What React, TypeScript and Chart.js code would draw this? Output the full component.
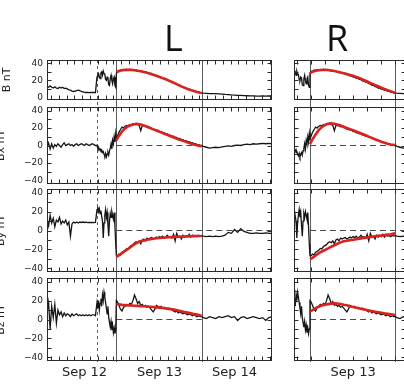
import React, { useEffect, useRef } from "react";
import { Chart, registerables } from "chart.js";

Chart.register(...registerables);

// ---------- time axis: hours after 2014-09-12 00:00 UT ----------
const preShockHours = [0, 0.5, 1, 1.5, 2, 2.5, 3, 3.5, 4, 4.5, 5, 5.5, 6, 6.5, 7, 7.5, 8, 8.5, 9, 9.5, 10, 10.5, 11, 11.5, 12, 12.5, 13, 13.5, 14, 14.5, 15, 15.5];
const sheathHours = [16, 16.25, 16.5, 16.75, 17, 17.25, 17.5, 17.75, 18, 18.25, 18.5, 18.75, 19, 19.25, 19.5, 19.75, 20, 20.25, 20.5, 20.75, 21, 21.25, 21.5, 21.75, 22];
const cloudHours = [22.2, 22.5, 23, 23.5, 24, 24.5, 25, 25.5, 26, 26.5, 27, 27.5, 28, 28.5, 29, 29.5, 30, 30.5, 31, 31.5, 32, 32.5, 33, 33.5, 34, 34.5, 35, 35.5, 36, 36.5, 37, 37.5, 38, 38.5, 39, 39.5, 40, 40.5, 41, 41.5, 42, 42.5, 43, 43.5, 44, 44.5, 45, 45.5, 46, 46.5, 47, 47.5, 48, 48.5, 49, 49.5];
const postHours = [50, 51, 52, 53, 54, 55, 56, 57, 58, 59, 60, 61, 62, 63, 64, 65, 66, 67, 68, 69, 70, 71, 72];
const obsHours = [...preShockHours, ...sheathHours, ...cloudHours, ...postHours];

// ---------- observed field (nT) ----------
const bTotal = [
  13, 12, 13.5, 12, 11, 12.5, 11, 10.5, 12, 11, 12, 10.5, 11, 10, 9, 8.5, 7.5, 7, 7.5, 8, 8.5, 8, 7, 6.5, 6, 5.8, 6, 5.7, 6, 5.8, 5.9, 5.6,
  24, 26, 28, 24, 22, 29, 30, 26, 31, 28, 27, 21, 20, 24, 23, 15, 14, 22, 26, 20, 16, 22, 24, 14, 12,
  28, 30.8, 30.5, 32.2, 31.6, 32.8, 32, 33, 32.3, 33.1, 32, 32.6, 31.5, 32.2, 30.8, 31.3, 30.6, 30.9, 29.8, 30.2, 29, 29.2, 28, 28.1, 26.7, 26.7, 25.3, 25.2, 23.9, 23.8, 22.5, 22.4, 21.1, 20.9, 19.5, 19.3, 17.9, 17.6, 16.1, 15.9, 14.3, 14.1, 12.6, 12.4, 11, 10.9, 9.7, 9.6, 8.4, 8.4, 7.3, 7.3, 6.2, 6.3, 5.3, 5.4,
  5, 4.8, 4.5, 4.6, 4.4, 4.2, 4, 3.6, 3.3, 3, 2.8, 2.5, 2.4, 2.2, 2, 1.8, 1.8, 1.6, 1.6, 1.7, 1.6, 1.8, 1.7,
];
const bxObs = [
  -2, 3, -4, 2, -3, 1, -1, 2, 0, -2, 1, 3, 0, 1, 2, 0, 1, -1, 1, 2, 0, 1, 2, 1, 0, 2, 1, 0, 1, 2, 1, 0,
  0, -3, -2, -5, -4, -6, -5, -8, -7, -10, -12, -9, -13, -10, -8, -11, -6, -3, 2, -4, 6, 2, 10, 4, 14,
  8, 10, 15, 18, 21, 20, 22, 23, 22.5, 24, 23, 25, 24, 25.5, 24, 23, 17, 23, 22.8, 22.3, 21.3, 21.8, 20.3, 19.8, 18.8, 18.3, 17.6, 17.6, 15.9, 16, 14.6, 14.6, 13.2, 13.3, 11.9, 11.9, 10.5, 10.6, 9.3, 9.2, 7.8, 8, 6.7, 6.8, 5.5, 5.6, 4.4, 4.5, 3.3, 3.3, 2.2, 2.1, 1.1, 1, 0.2, 0,
  -1, -2, -3, -2.5, -2, -2.5, -1.5, -1, -0.5, -1, 0, 0.5, 0, 1, 1.5, 1, 2, 1.5, 2, 2.5, 2, 2.5, 2,
];
const byObs = [
  12, 5, 16, 8, 13, 4, 11, 9, 14, 7, 10, 8, 11, 6, 9, -6, 7, 9, 8, 9, 8, 9, 8.5, 9, 8.5, 8.8, 8.4, 8.7, 8.5, 8.6, 8.4, 8.6,
  22, 25, 20, 23, 18, 21, 15, 10, -8, 8, 16, 22, 14, 19, 6, -6, 10, 18, 14, 20, 16, 12, 19, 4, -15,
  -27, -27, -25, -26, -23, -22, -21, -19, -19.5, -17, -16, -15, -13, -12, -13, -11, -14, -10, -9, -11, -8, -9, -8, -7.5, -9, -8, -7, -8, -6.5, -7.5, -6, -8, -7, -5, -7, -6.5, -8, -4, -11, -3, -7, -6, -9, -5, -7, -5.5, -6.5, -4, -7, -5, -6, -5.5, -6.5, -5, -6, -5.5,
  -6, -6.5, -6, -6.5, -6, -6.5, -6, -5, -2, -3, 1, -2, 2, -1, -2, -3, -3, -2.5, -3, -3, -2.5, -3, -3,
];
const bzObs = [
  8, 18, -10, 14, 2, 16, -4, 10, 5, 8, 3, 7, 4, 6, 5, 3, 6, 4, 5, 6, 4, 5, 4, 5, 4, 5, 4, 5, 4, 5, 5, 4,
  18, 12, 20, 10, 17, 22, 14, 26, 20, 29, 24, 18, 12, 6, 14, 2, -3, -8, -2, -11, -6, -14, -9, -15, -10,
  20, 19, 15, 11, 9, 13, 14, 16, 15, 17, 16, 20, 26, 22, 17, 19, 15, 16, 14, 15, 13, 14, 12, 10, 8, 11, 15, 14, 13, 14, 12, 13, 12, 11, 12, 11, 10, 9, 8, 9, 7, 8, 7, 6, 7, 6, 5, 6, 5, 4, 5, 4, 3, 4, 3, 3,
  2, 1, 3, 2, 1, 3, 2, 3, 4, 2, 3, -1, 2, 3, 1, 2, 3, 2, 1, 2, -1, 2, 3,
];

// ---------- flux-rope fits (red) ----------
const fitHours = [22.2, 23, 24, 25, 26, 27, 28, 29, 30, 31, 32, 33, 34, 35, 36, 37, 38, 39, 40, 41, 42, 43, 44, 45, 46, 47, 48, 49, 49.5];
const fitBL = [29.5, 31, 32, 32.4, 32.6, 32.4, 32, 31.4, 30.8, 29.9, 29, 27.9, 26.7, 25.4, 24.1, 22.7, 21.3, 19.8, 18.2, 16.5, 14.7, 13, 11.5, 10, 8.7, 7.6, 6.5, 5.6, 5.2];
const fitBxL = [6, 11, 16, 19.5, 22, 23.5, 24.3, 24.5, 23.9, 22.8, 21.4, 19.9, 18.4, 17, 15.6, 14.2, 12.8, 11.4, 10, 8.6, 7.2, 5.9, 4.7, 3.5, 2.3, 1.2, 0.2, -0.6, -1];
const fitByL = [-28, -26.5, -24, -21.5, -19.5, -17, -14.5, -12.8, -11.5, -10.5, -9.8, -9.2, -8.7, -8.3, -8, -7.7, -7.4, -7.2, -7, -6.8, -6.6, -6.5, -6.3, -6.2, -6.1, -6, -5.9, -5.8, -5.8];
const fitBzL = [16.5, 16, 15.5, 15.2, 15, 14.8, 14.6, 14.4, 14.2, 14, 13.8, 13.5, 13.2, 12.9, 12.6, 12.2, 11.8, 11.3, 10.8, 10.2, 9.5, 8.8, 8, 7.3, 6.6, 5.9, 5.2, 4.5, 4.2];
const fitBR = [28.4, 30.2, 31.4, 32, 32.3, 32.4, 32.2, 31.7, 31, 30.2, 29.3, 28.4, 27.4, 26.4, 25.4, 24.1, 22.8, 21.3, 19.6, 17.9, 16.3, 14.7, 13.2, 11.5, 10, 8.6, 7.4, 6, 5.2];
const fitBxR = [1.5, 7, 12.5, 17.5, 21, 23.5, 24.8, 25.3, 24.8, 24, 22.8, 21.4, 20, 18.7, 17.4, 16, 14.6, 13.2, 11.7, 10.2, 8.7, 7.2, 5.8, 4.3, 3, 2, 1.2, 0.7, 0.5];
const fitByR = [-30.5, -29, -26.5, -24, -22.3, -20.7, -19, -17.2, -15.6, -14, -12.6, -11.5, -10.8, -10.2, -9.8, -9.2, -8.6, -8.1, -7.6, -7.1, -6.6, -6.1, -5.7, -5.3, -4.9, -4.4, -3.9, -3.3, -3];
const fitBzR = [8.5, 10, 12, 13.6, 14.8, 15.7, 16.3, 16.8, 17.1, 17, 16.5, 15.7, 15, 14.1, 13.3, 12.5, 11.8, 11, 10.3, 9.6, 8.9, 8.3, 7.7, 7.1, 6.5, 6, 5.5, 5, 4.8];

// ---------- events and labels ----------
const shockHour = 16;
const cloudStartHour = 22.2;
const cloudEndHour = 49.5;
const dayLabelHours = [12, 36, 60];
const dayLabels = ["Sep 12", "Sep 13", "Sep 14"];
const bTicks = [0, 20, 40];
const compTicks = [-40, -20, 0, 20, 40];

const FONT = '"DejaVu Sans", sans-serif';

type Key = "b" | "bx" | "by" | "bz";
const obsSeries: Record<Key, number[]> = { b: bTotal, bx: bxObs, by: byObs, bz: bzObs };

const panelDefs: { id: string; key: Key; title: string; min: number; max: number; size: number; titlePad: number; ticks: number[]; zero: boolean }[] = [
  { id: "yB", key: "b", title: "B nT", min: -3, max: 44, size: 40, titlePad: 8, ticks: bTicks, zero: false },
  { id: "yBx", key: "bx", title: "Bx nT", min: -44, max: 44, size: 77, titlePad: 2, ticks: compTicks, zero: true },
  { id: "yBy", key: "by", title: "By nT", min: -44, max: 44, size: 83, titlePad: 2, ticks: compTicks, zero: true },
  { id: "yBz", key: "bz", title: "Bz nT", min: -44, max: 44, size: 83, titlePad: 2, ticks: compTicks, zero: true },
];
const gapSizes = [7, 5, 6];

type GroupCfg = {
  xMin: number;
  xMax: number;
  tickStart: number;
  tickStep: number;
  showYLabels: boolean;
  fits: Record<Key, number[]>;
  zeroEnds: Record<Key, number>;
  canvasLeft: number;
  canvasWidth: number;
  axisWidth: number;
};

const leftGroup: GroupCfg = {
  xMin: 0,
  xMax: 72,
  tickStart: 1.25,
  tickStep: 2.5,
  showYLabels: true,
  fits: { b: fitBL, bx: fitBxL, by: fitByL, bz: fitBzL },
  zeroEnds: { b: 0, bx: 49.5, by: 72, bz: 49.5 },
  canvasLeft: -7,
  canvasWidth: 281,
  axisWidth: 54,
};

const rightGroup: GroupCfg = {
  xMin: 17.1,
  xMax: 52.9,
  tickStart: 18,
  tickStep: 4.5,
  showYLabels: false,
  fits: { b: fitBR, bx: fitBxR, by: fitByR, bz: fitBzR },
  zeroEnds: { b: 0, bx: 49.5, by: 52.9, bz: 42 },
  canvasLeft: 290,
  canvasWidth: 118,
  axisWidth: 4,
};

function pts(xs: number[], ys: number[]) {
  const n = Math.min(xs.length, ys.length);
  const out: { x: number; y: number }[] = [];
  for (let i = 0; i < n; i++) out.push({ x: xs[i], y: ys[i] });
  return out;
}

function fmtTick(v: number) {
  return v < 0 ? "\u2212" + Math.abs(v) : String(v);
}

function buildConfig(g: GroupCfg): any {
  const datasets: any[] = [];
  panelDefs.forEach((p) => {
    datasets.push({
      data: pts(obsHours, obsSeries[p.key]),
      yAxisID: p.id,
      borderColor: "#151515",
      borderWidth: 1.3,
      pointRadius: 0,
      order: 1,
    });
    datasets.push({
      data: pts(fitHours, g.fits[p.key]),
      yAxisID: p.id,
      borderColor: "#da221e",
      borderWidth: 2.6,
      pointRadius: 0,
      order: 0,
    });
    if (p.zero) {
      datasets.push({
        data: [
          { x: cloudStartHour, y: 0 },
          { x: g.zeroEnds[p.key], y: 0 },
        ],
        yAxisID: p.id,
        borderColor: "#4a4a4a",
        borderWidth: 1,
        borderDash: [6, 4],
        pointRadius: 0,
        order: 2,
      });
    }
  });

  const scales: any = {
    x: {
      type: "linear",
      position: "bottom",
      min: g.xMin,
      max: g.xMax,
      bounds: "data",
      grid: { display: false, drawTicks: false },
      border: { display: false },
      ticks: {
        autoSkip: false,
        maxRotation: 0,
        padding: 4,
        color: "#222",
        font: { family: FONT, size: 13 },
        callback: (v: number) => {
          const i = dayLabelHours.indexOf(v);
          return i >= 0 ? dayLabels[i] : "";
        },
      },
      afterBuildTicks: (s: any) => {
        s.ticks = dayLabelHours.filter((h) => h >= g.xMin && h <= g.xMax).map((h) => ({ value: h }));
      },
      afterFit: (s: any) => {
        s.height = 23;
      },
    },
  };

  let w = 20;
  panelDefs.forEach((p, i) => {
    scales[p.id] = {
      type: "linear",
      position: "left",
      stack: "mag",
      stackWeight: p.size,
      weight: w--,
      min: p.min,
      max: p.max,
      bounds: "data",
      grid: { display: false, drawTicks: false },
      border: { display: false },
      ticks: {
        display: g.showYLabels,
        autoSkip: false,
        padding: 4,
        color: "#222",
        font: { family: FONT, size: 9 },
        callback: (v: number) => fmtTick(v),
      },
      afterBuildTicks: (s: any) => {
        s.ticks = p.ticks.map((v) => ({ value: v }));
      },
      title: {
        display: g.showYLabels,
        text: p.title,
        color: "#222",
        font: { family: FONT, size: 11 },
        padding: { top: p.titlePad, bottom: 0 },
      },
      afterFit: (s: any) => {
        s.width = g.axisWidth;
      },
    };
    if (i < gapSizes.length) {
      scales["gap" + i] = {
        type: "linear",
        position: "left",
        stack: "mag",
        stackWeight: gapSizes[i],
        weight: w--,
        display: false,
        min: 0,
        max: 1,
      };
    }
  });

  const framePlugin = {
    id: "panelFrames",
    beforeDatasetsDraw(chart: any) {
      const { ctx, chartArea } = chart;
      const xs = chart.scales.x;
      const lines = [
        { hour: shockHour, dashed: true },
        { hour: cloudStartHour, dashed: false },
        { hour: cloudEndHour, dashed: false },
      ];
      ctx.save();
      ctx.strokeStyle = "#5c5c5c";
      ctx.lineWidth = 1;
      for (const ev of lines) {
        if (ev.hour < xs.min || ev.hour > xs.max) continue;
        const x = Math.round(xs.getPixelForValue(ev.hour)) + 0.5;
        ctx.setLineDash(ev.dashed ? [3, 3] : []);
        ctx.beginPath();
        ctx.moveTo(x, chartArea.top);
        ctx.lineTo(x, chartArea.bottom + 1);
        ctx.stroke();
      }
      ctx.restore();
    },
    afterDatasetsDraw(chart: any) {
      const { ctx, chartArea } = chart;
      const xs = chart.scales.x;
      ctx.save();
      ctx.strokeStyle = "#2a2a2a";
      ctx.lineWidth = 1;
      ctx.setLineDash([]);
      const L = Math.round(chartArea.left) + 0.5;
      const R = Math.round(chartArea.right) - 0.5;
      for (const p of panelDefs) {
        const s = chart.scales[p.id];
        const T = Math.round(s.top) + 0.5;
        const B = Math.round(s.bottom) - 0.5;
        ctx.strokeRect(L, T, R - L, B - T);
        ctx.beginPath();
        for (let h = g.tickStart; h <= xs.max; h += g.tickStep) {
          if (h < xs.min) continue;
          const x = Math.round(xs.getPixelForValue(h)) + 0.5;
          ctx.moveTo(x, T);
          ctx.lineTo(x, T + 4);
          ctx.moveTo(x, B);
          ctx.lineTo(x, B - 4);
        }
        for (let v = Math.ceil(s.min / 10) * 10; v <= s.max; v += 10) {
          const y = Math.round(s.getPixelForValue(v)) + 0.5;
          if (y <= T + 2 || y >= B - 2) continue;
          ctx.moveTo(L, y);
          ctx.lineTo(L + 4, y);
          ctx.moveTo(R, y);
          ctx.lineTo(R - 4, y);
        }
        ctx.stroke();
      }
      ctx.restore();
    },
  };

  return {
    type: "line",
    data: { datasets },
    options: {
      animation: false,
      responsive: false,
      devicePixelRatio: 1,
      events: [],
      parsing: true,
      font: { family: FONT },
      layout: { padding: { top: 60, left: 0, right: 2, bottom: 0 } },
      plugins: { legend: { display: false }, tooltip: { enabled: false }, title: { display: false } },
      elements: { line: { tension: 0, fill: false }, point: { radius: 0 } },
      scales,
    },
    plugins: [framePlugin],
  };
}

function GroupChart({ group }: { group: GroupCfg }) {
  const ref = useRef<HTMLCanvasElement>(null);
  useEffect(() => {
    if (!ref.current) return;
    const chart = new Chart(ref.current, buildConfig(group));
    return () => chart.destroy();
  }, [group]);
  return (
    <canvas
      ref={ref}
      width={group.canvasWidth}
      height={384}
      style={{ position: "absolute", left: group.canvasLeft, top: 0, width: group.canvasWidth, height: 384 }}
    />
  );
}

const headStyle: React.CSSProperties = {
  position: "absolute",
  top: 20,
  width: 100,
  textAlign: "center",
  fontFamily: '"Open Sans", sans-serif',
  fontSize: 36,
  lineHeight: "36px",
  color: "#111",
};

export default function App() {
  return (
    <div style={{ position: "fixed", left: 0, top: 0, width: 404, height: 384, overflow: "hidden", background: "#fff" }}>
      <GroupChart group={leftGroup} />
      <GroupChart group={rightGroup} />
      <div style={{ ...headStyle, left: 123.5 }}>L</div>
      <div style={{ ...headStyle, left: 287 }}>R</div>
    </div>
  );
}
